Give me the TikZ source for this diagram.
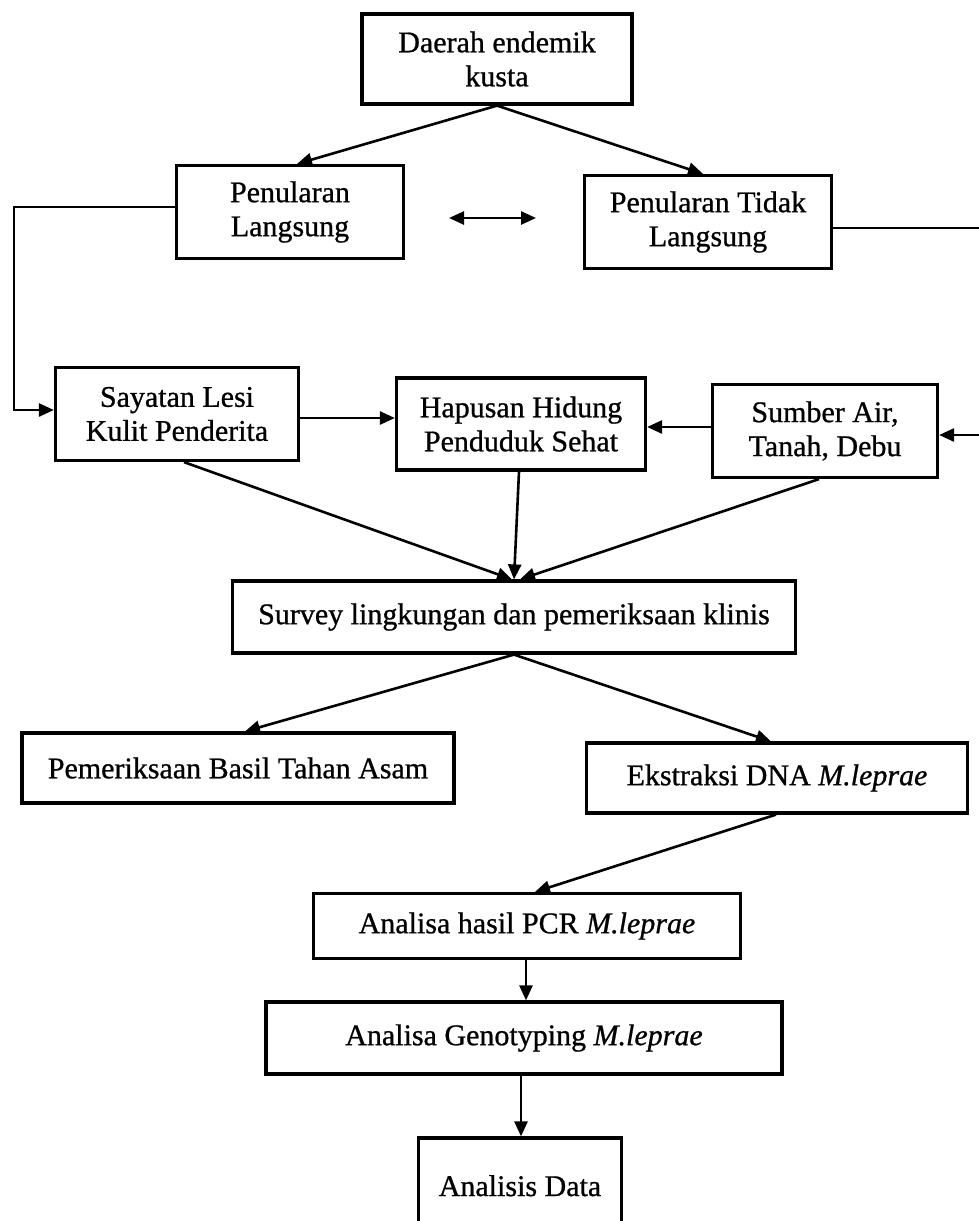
\documentclass[tikz,border=0pt]{standalone}
\usepackage{fontspec}
\setmainfont{Liberation Serif}[FakeBold=0.8]
\usetikzlibrary{arrows.meta,calc}
\begin{document}
\begin{tikzpicture}[x=0.5pt,y=-0.5pt,
  box/.style={draw,line width=1.6pt,align=center,inner sep=0pt,font=\fontsize{15}{17}\selectfont},
  conn/.style={line width=1.3pt,-{Triangle[length=7.5pt,width=6.5pt]}},
  twoway/.style={line width=1.3pt,{Triangle[length=7.5pt,width=6.5pt]}-{Triangle[length=7.5pt,width=6.5pt]}}]
\useasboundingbox[fill=white] (0,0) rectangle (979,1221);
% nodes
\node[box,minimum width=135pt,minimum height=45pt] (daerah) at (497,59) {Daerah endemik\\kusta};
\node[box,minimum width=113.5pt,minimum height=46.5pt] (pl) at (290,212) {Penularan\\Langsung};
\node[box,minimum width=123.5pt,minimum height=46.5pt] (ptl) at (708,222) {Penularan Tidak\\Langsung};
\node[box,minimum width=121.5pt,minimum height=46.5pt] (say) at (177,414) {Sayatan Lesi\\Kulit Penderita};
\node[box,minimum width=124.5pt,minimum height=46pt] (hap) at (521,424) {Hapusan Hidung\\Penduduk Sehat};
\node[box,minimum width=112.5pt,minimum height=46.5pt] (sum) at (825,431) {Sumber Air,\\Tanah, Debu};
\node[box,minimum width=281.5pt,minimum height=36pt] (sur) at (514,617) {Survey lingkungan dan pemeriksaan klinis};
\node[box,minimum width=216pt,minimum height=35pt] (pem) at (238,768) {Pemeriksaan Basil Tahan Asam};
\node[box,minimum width=190.5pt,minimum height=35pt] (eks) at (777,778) {Ekstraksi DNA \textit{M.leprae}};
\node[box,minimum width=213.5pt,minimum height=32.5pt] (pcr) at (527,926) {Analisa hasil PCR \textit{M.leprae}};
\node[box,minimum width=258pt,minimum height=36pt] (geno) at (524,1038) {Analisa Genotyping \textit{M.leprae}};
\node[box,minimum width=101.5pt,minimum height=52pt] (data) at (520,1190) {};
\node[font=\fontsize{15}{17}\selectfont,anchor=base] (datatxt) at (520,1196) {Analisis Data};
% free ends
\coordinate (da) at (449,218);
\coordinate (db) at (536,218);
\coordinate (lt) at (14,207);
\coordinate (rt) at (995,228);
% connectors
\draw[conn] (daerah.south) -- (pl.north -| 297,0);
\draw[conn] (daerah.south) -- (ptl.north -| 703,0);
\draw[twoway] (da) -- (db);
\draw[conn] (pl.west |- lt) -- (lt) |- (say.west |- 0,410);
\draw[conn] (ptl.east |- rt) -- (rt) |- (sum.east |- 0,435);
\draw[conn] (say.east |- 0,418) -- (hap.west |- 0,418);
\draw[conn] (sum.west |- 0,427) -- (hap.east |- 0,427);
\draw[conn] (say.south -| 184,0) -- (sur.north -| 512,0);
\draw[conn] (hap.south -| 519,0) -- (sur.north -| 514,0);
\draw[conn] (sum.south -| 819,0) -- (sur.north -| 520,0);
\draw[conn] (sur.south -| 514,0) -- (pem.north -| 245,0);
\draw[conn] (sur.south -| 514,0) -- (eks.north -| 771,0);
\draw[conn] (eks.south -| 776,0) -- (pcr.north -| 535,0);
\draw[conn] (pcr.south -| 526,0) -- (geno.north -| 526,0);
\draw[conn] (geno.south -| 521,0) -- (data.north -| 521,0);
\end{tikzpicture}
\end{document}
